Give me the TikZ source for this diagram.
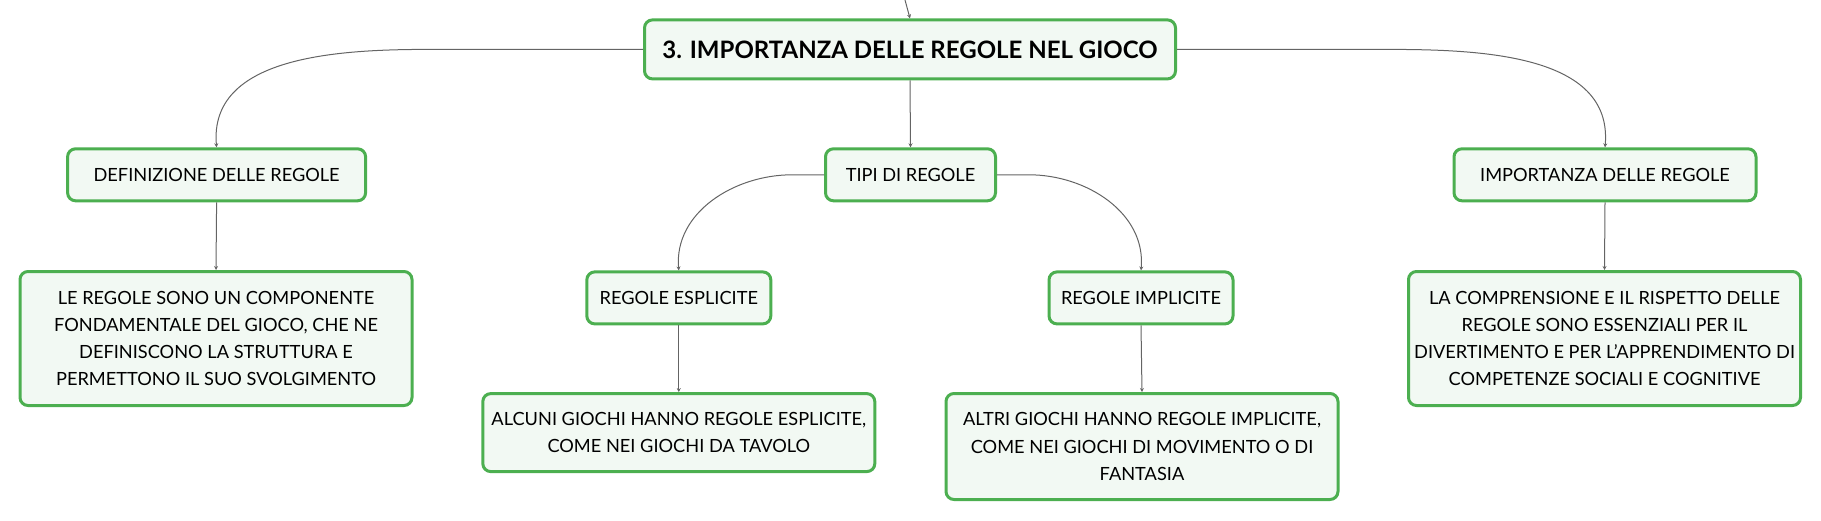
\documentclass[tikz,border=0pt]{standalone}
\usepackage{fontspec}
\setmainfont{Lato}
\usetikzlibrary{arrows.meta}
\definecolor{boxgreen}{RGB}{76,175,80}
\definecolor{boxfill}{RGB}{242,249,243}
\definecolor{wire}{RGB}{100,100,100}
\tikzset{
box/.style={draw=boxgreen, fill=boxfill, line width=1.5pt, rounded corners=4pt,
  align=center, inner sep=0pt, font=\fontsize{9.1}{13.6}\selectfont},
rootbox/.style={box, font=\bfseries\fontsize{12}{14}\selectfont},
wire/.style={draw=wire, line width=0.5pt, -{Stealth[length=2pt,width=2pt]}}
}
\begin{document}
\begin{tikzpicture}[x=0.5pt,y=-0.5pt]
\useasboundingbox (0,0) rectangle (1821,520);
% root
\node[rootbox, minimum width=265.5pt, minimum height=29.5pt] (root) at (910,49.4)
  {3. IMPORTANZA DELLE REGOLE NEL GIOCO};
% second level
\node[box, minimum width=149pt, minimum height=26pt] (defin) at (216.6,174.8) {DEFINIZIONE DELLE REGOLE};
\node[box, minimum width=85pt, minimum height=26pt] (tipi) at (910.5,174.8) {TIPI DI REGOLE};
\node[box, minimum width=151pt, minimum height=26pt] (impo) at (1605,174.8) {IMPORTANZA DELLE REGOLE};
% third level
\node[box, minimum width=196pt, minimum height=67pt] (defintxt) at (216,338.5)
  {LE REGOLE SONO UN COMPONENTE\\FONDAMENTALE DEL GIOCO, CHE NE\\DEFINISCONO LA STRUTTURA E\\PERMETTONO IL SUO SVOLGIMENTO};
\node[box, minimum width=92pt, minimum height=26pt] (espl) at (678.8,297.9) {REGOLE ESPLICITE};
\node[box, minimum width=92pt, minimum height=26pt] (impl) at (1141,297.9) {REGOLE IMPLICITE};
\node[box, minimum width=196pt, minimum height=67pt] (impotxt) at (1604.5,338.5)
  {LA COMPRENSIONE E IL RISPETTO DELLE\\REGOLE SONO ESSENZIALI PER IL\\DIVERTIMENTO E PER L'APPRENDIMENTO DI\\COMPETENZE SOCIALI E COGNITIVE};
% fourth level
\node[box, minimum width=196pt, minimum height=39pt] (espltxt) at (678.8,432.6)
  {ALCUNI GIOCHI HANNO REGOLE ESPLICITE,\\COME NEI GIOCHI DA TAVOLO};
\node[box, minimum width=196pt, minimum height=53pt] (impltxt) at (1142,446.5)
  {ALTRI GIOCHI HANNO REGOLE IMPLICITE,\\COME NEI GIOCHI DI MOVIMENTO O DI\\FANTASIA};
% connectors
\coordinate (up) at (905,0);
\draw[wire] (up) -- (root.north);
\draw[wire] (root.west) -- (429,49.4) to[out=180,in=95] (defin.north);
\draw[wire] (root.east) -- (1386,49.4) to[out=0,in=85] (impo.north);
\draw[wire] (root.south) -- (tipi.north);
\draw[wire] (tipi.west) -- (792,174.8) to[out=180,in=95] (espl.north);
\draw[wire] (tipi.east) -- (1029,174.8) to[out=0,in=85] (impl.north);
\draw[wire] (defin.south) -- (defintxt.north);
\draw[wire] (impo.south) -- (impotxt.north);
\draw[wire] (espl.south) -- (espltxt.north);
\draw[wire] (impl.south) -- (impltxt.north);
\end{tikzpicture}
\end{document}
